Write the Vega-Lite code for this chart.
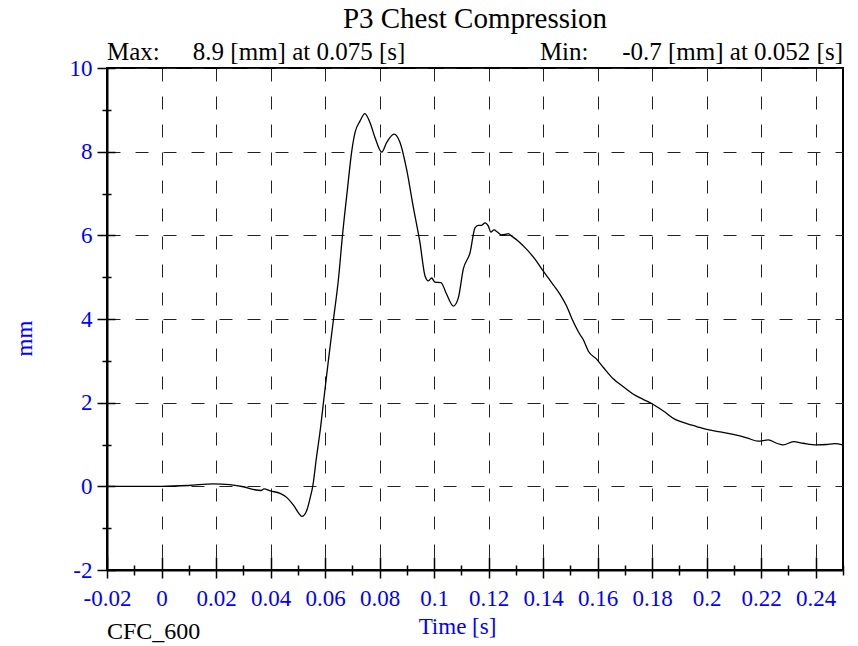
{
  "$schema": "https://vega.github.io/schema/vega-lite/v6.json",
  "width": 736,
  "height": 502,
  "autosize": {"type": "none"},
  "padding": {"left": 107, "top": 68, "right": 15, "bottom": 76},
  "background": "white",
  "title": {"text": "P3 Chest Compression", "font": "Liberation Serif", "fontSize": 29, "fontWeight": "normal", "color": "black", "anchor": "middle", "baseline": "alphabetic", "offset": -17},
  "config": {"view": {"stroke": "black", "strokeWidth": 2}, "font": "Liberation Serif"},
  "datasets": {
    "curve": [
      {"t": -0.02, "v": 0.0}, {"t": -0.01, "v": 0.0}, {"t": 0.0, "v": 0.0}, {"t": 0.01, "v": 0.02},
      {"t": 0.019, "v": 0.06}, {"t": 0.025, "v": 0.04}, {"t": 0.03, "v": -0.01}, {"t": 0.034, "v": -0.08},
      {"t": 0.0365, "v": -0.10}, {"t": 0.0376, "v": -0.06}, {"t": 0.04, "v": -0.11}, {"t": 0.0435, "v": -0.17},
      {"t": 0.046, "v": -0.27}, {"t": 0.0486, "v": -0.47}, {"t": 0.0503, "v": -0.64}, {"t": 0.0515, "v": -0.72},
      {"t": 0.0532, "v": -0.59}, {"t": 0.0544, "v": -0.31}, {"t": 0.0555, "v": 0.01}, {"t": 0.0569, "v": 0.72},
      {"t": 0.0581, "v": 1.28}, {"t": 0.0594, "v": 2.0}, {"t": 0.0612, "v": 3.0}, {"t": 0.0631, "v": 4.0},
      {"t": 0.0649, "v": 4.95}, {"t": 0.0664, "v": 6.01}, {"t": 0.0682, "v": 7.1}, {"t": 0.0698, "v": 8.02},
      {"t": 0.071, "v": 8.46}, {"t": 0.0728, "v": 8.73}, {"t": 0.0746, "v": 8.91}, {"t": 0.0765, "v": 8.69},
      {"t": 0.0783, "v": 8.34}, {"t": 0.0808, "v": 7.99}, {"t": 0.0826, "v": 8.22}, {"t": 0.0853, "v": 8.42},
      {"t": 0.0875, "v": 8.22}, {"t": 0.0899, "v": 7.58}, {"t": 0.0923, "v": 6.70}, {"t": 0.0948, "v": 5.83},
      {"t": 0.0967, "v": 5.02}, {"t": 0.0979, "v": 4.91}, {"t": 0.0991, "v": 4.98}, {"t": 0.1003, "v": 4.88},
      {"t": 0.1025, "v": 4.87}, {"t": 0.1046, "v": 4.59}, {"t": 0.1071, "v": 4.31}, {"t": 0.1089, "v": 4.51},
      {"t": 0.1107, "v": 5.19}, {"t": 0.1132, "v": 5.59}, {"t": 0.115, "v": 6.18}, {"t": 0.1162, "v": 6.24},
      {"t": 0.1174, "v": 6.24}, {"t": 0.1187, "v": 6.30}, {"t": 0.1199, "v": 6.22}, {"t": 0.1208, "v": 6.08},
      {"t": 0.122, "v": 6.13}, {"t": 0.1232, "v": 6.08}, {"t": 0.1248, "v": 6.01}, {"t": 0.126, "v": 6.02},
      {"t": 0.1272, "v": 6.04}, {"t": 0.1285, "v": 5.98}, {"t": 0.1309, "v": 5.86}, {"t": 0.1339, "v": 5.67},
      {"t": 0.137, "v": 5.43}, {"t": 0.14, "v": 5.15}, {"t": 0.1431, "v": 4.87}, {"t": 0.1462, "v": 4.59},
      {"t": 0.1486, "v": 4.31}, {"t": 0.1504, "v": 4.03}, {"t": 0.1535, "v": 3.63}, {"t": 0.1547, "v": 3.51},
      {"t": 0.1566, "v": 3.23}, {"t": 0.1596, "v": 3.04}, {"t": 0.1621, "v": 2.84}, {"t": 0.1657, "v": 2.57},
      {"t": 0.1694, "v": 2.38}, {"t": 0.1731, "v": 2.20}, {"t": 0.1767, "v": 2.08}, {"t": 0.1798, "v": 1.98},
      {"t": 0.1841, "v": 1.80}, {"t": 0.1884, "v": 1.60}, {"t": 0.1927, "v": 1.50}, {"t": 0.1963, "v": 1.43},
      {"t": 0.2, "v": 1.36}, {"t": 0.2049, "v": 1.30}, {"t": 0.2097, "v": 1.24}, {"t": 0.2147, "v": 1.16},
      {"t": 0.2189, "v": 1.08}, {"t": 0.2226, "v": 1.11}, {"t": 0.2257, "v": 1.03}, {"t": 0.2281, "v": 0.99},
      {"t": 0.2318, "v": 1.07}, {"t": 0.2354, "v": 1.03}, {"t": 0.2403, "v": 0.99}, {"t": 0.244, "v": 1.00},
      {"t": 0.247, "v": 1.02}, {"t": 0.2499, "v": 0.99}
    ]
  },
  "resolve": {"axis": {"x": "independent", "y": "independent"}},
  "layer": [
    {
      "data": {"name": "curve"},
      "mark": {"type": "line", "color": "black", "strokeWidth": 1.3, "interpolate": "monotone", "clip": true},
      "encoding": {
        "x": {
          "field": "t", "type": "quantitative",
          "scale": {"domain": [-0.02, 0.25], "nice": false, "zero": false},
          "axis": {
            "orient": "bottom",
            "values": [-0.02, -0.01, 0, 0.01, 0.02, 0.03, 0.04, 0.05, 0.06, 0.07, 0.08, 0.09, 0.1, 0.11, 0.12, 0.13, 0.14, 0.15, 0.16, 0.17, 0.18, 0.19, 0.2, 0.21, 0.22, 0.23, 0.24, 0.25],
            "title": "Time [s]",
            "titleFont": "Liberation Serif", "titleFontSize": 23, "titleFontWeight": "normal", "titleColor": "#0000FF",
            "titleX": 350, "titleY": 63, "titleBaseline": "alphabetic", "titleAlign": "center",
            "labelExpr": "round(datum.value*100) % 2 == 0 ? toString(datum.value) : ''",
            "labelFont": "Liberation Serif", "labelFontSize": 23, "labelColor": "#0000FF",
            "labelBaseline": "alphabetic", "labelPadding": 27, "labelFlush": false, "labelOverlap": false, "labelBound": false,
            "domainColor": "black", "domainWidth": 2,
            "tickColor": "black", "tickWidth": 1.5,
            "tickSize": {"condition": {"test": "round(datum.value*100) % 2 == 0", "value": 8}, "value": 5},
            "grid": true, "gridColor": "#222222", "gridDash": [13, 15], "gridWidth": 1,
            "gridOpacity": {"condition": {"test": "round(datum.value*100) % 2 != 0", "value": 0}, "value": 1}
          }
        },
        "y": {
          "field": "v", "type": "quantitative",
          "scale": {"domain": [-2, 10], "nice": false, "zero": false},
          "axis": {
            "orient": "left",
            "values": [-2, -1, 0, 1, 2, 3, 4, 5, 6, 7, 8, 9, 10],
            "title": "mm",
            "titleFont": "Liberation Serif", "titleFontSize": 23, "titleFontWeight": "normal", "titleColor": "#0000FF",
            "titleX": -76, "titleY": 270, "titleBaseline": "alphabetic", "titleAlign": "center", "titleAngle": -90,
            "labelExpr": "datum.value % 2 == 0 ? toString(datum.value) : ''",
            "labelFont": "Liberation Serif", "labelFontSize": 23, "labelColor": "#0000FF",
            "labelPadding": 5, "labelOverlap": false, "labelBound": false, "labelFlush": false,
            "domainColor": "black", "domainWidth": 2,
            "tickColor": "black", "tickWidth": 1.5,
            "tickSize": {"condition": {"test": "datum.value % 2 == 0", "value": 10}, "value": 5},
            "grid": true, "gridColor": "#222222", "gridDash": [13, 15], "gridWidth": 1,
            "gridOpacity": {"condition": {"test": "datum.value % 2 != 0", "value": 0}, "value": 1}
          }
        }
      }
    },
    {
      "data": {"name": "curve"},
      "mark": {"type": "line", "opacity": 0},
      "encoding": {
        "x": {
          "field": "t", "type": "quantitative",
          "axis": {
            "orient": "bottom",
            "values": [-0.02, -0.01, 0, 0.01, 0.02, 0.03, 0.04, 0.05, 0.06, 0.07, 0.08, 0.09, 0.1, 0.11, 0.12, 0.13, 0.14, 0.15, 0.16, 0.17, 0.18, 0.19, 0.2, 0.21, 0.22, 0.23, 0.24, 0.25],
            "title": null, "labels": false, "domain": false, "grid": false,
            "tickColor": "black", "tickWidth": 1.5,
            "tickSize": {"condition": {"test": "round(datum.value*100) % 2 == 0", "value": -13}, "value": -5}
          }
        },
        "y": {
          "field": "v", "type": "quantitative",
          "axis": {
            "orient": "left",
            "values": [-2, -1, 0, 1, 2, 3, 4, 5, 6, 7, 8, 9, 10],
            "title": null, "labels": false, "domain": false, "grid": false,
            "tickColor": "black", "tickWidth": 1.5,
            "tickSize": {"condition": {"test": "datum.value % 2 == 0", "value": -8}, "value": -4}
          }
        }
      }
    },
    {
      "data": {"values": [{}]},
      "mark": {"type": "text", "font": "Liberation Serif", "fontSize": 25, "color": "black", "align": "left", "baseline": "alphabetic", "dy": -8},
      "encoding": {
        "x": {"datum": -0.02, "type": "quantitative", "axis": null},
        "y": {"datum": 10, "type": "quantitative", "axis": null},
        "text": {"value": "Max:"}
      }
    },
    {
      "data": {"values": [{}]},
      "mark": {"type": "text", "font": "Liberation Serif", "fontSize": 25, "color": "black", "align": "left", "baseline": "alphabetic", "dy": -8},
      "encoding": {
        "x": {"datum": 0.0115, "type": "quantitative", "axis": null},
        "y": {"datum": 10, "type": "quantitative", "axis": null},
        "text": {"value": "8.9 [mm] at 0.075 [s]"}
      }
    },
    {
      "data": {"values": [{}]},
      "mark": {"type": "text", "font": "Liberation Serif", "fontSize": 25, "color": "black", "align": "left", "baseline": "alphabetic", "dy": -8},
      "encoding": {
        "x": {"datum": 0.1388, "type": "quantitative", "axis": null},
        "y": {"datum": 10, "type": "quantitative", "axis": null},
        "text": {"value": "Min:"}
      }
    },
    {
      "data": {"values": [{}]},
      "mark": {"type": "text", "font": "Liberation Serif", "fontSize": 25, "color": "black", "align": "right", "baseline": "alphabetic", "dy": -8},
      "encoding": {
        "x": {"datum": 0.25, "type": "quantitative", "axis": null},
        "y": {"datum": 10, "type": "quantitative", "axis": null},
        "text": {"value": "-0.7 [mm] at 0.052 [s]"}
      }
    },
    {
      "data": {"values": [{}]},
      "mark": {"type": "text", "font": "Liberation Serif", "fontSize": 24, "color": "black", "align": "left", "baseline": "alphabetic", "dy": 69},
      "encoding": {
        "x": {"datum": -0.02, "type": "quantitative", "axis": null},
        "y": {"datum": -2, "type": "quantitative", "axis": null},
        "text": {"value": "CFC_600"}
      }
    }
  ]
}
